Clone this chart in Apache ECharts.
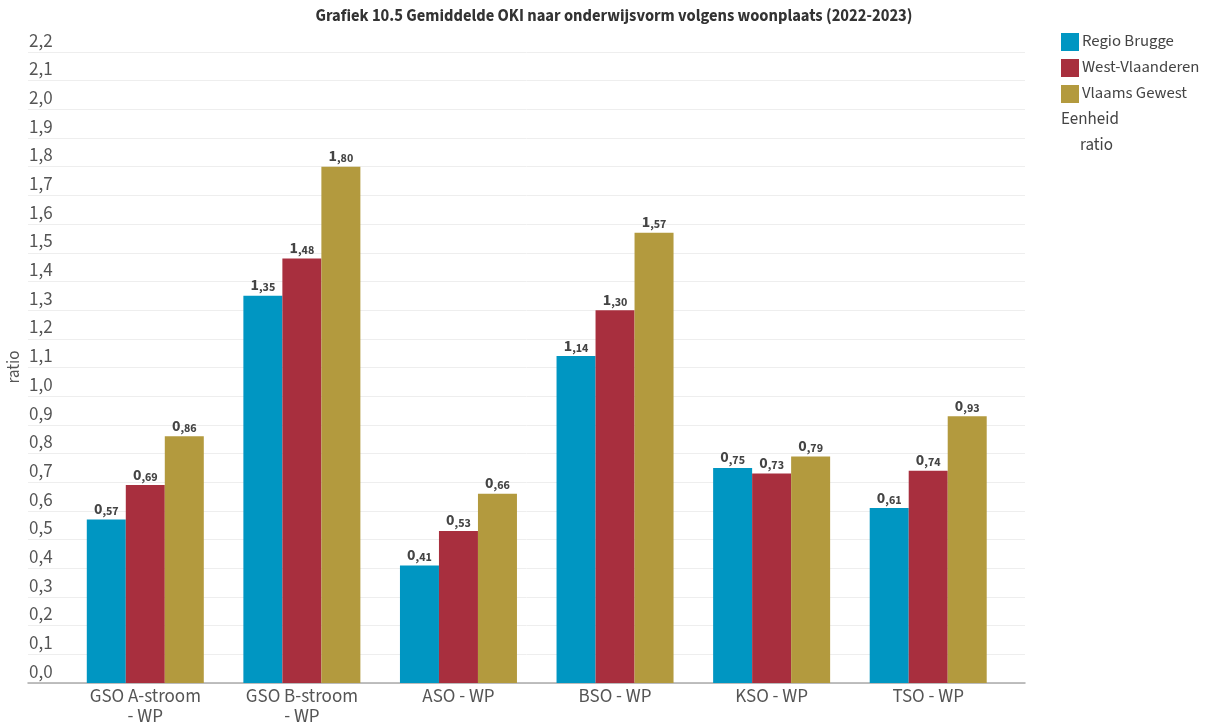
<!DOCTYPE html>
<html>
<head>
<meta charset="utf-8">
<script src="https://cdn.jsdelivr.net/npm/echarts@6/dist/echarts.min.js"></script>
<style>
html,body{margin:0;padding:0;background:#fff;}
#main{width:1206px;height:724px;}
</style>
</head>
<body>
<div id="main"></div>
<script>
var categories = ['GSO A-stroom\n- WP', 'GSO B-stroom\n- WP', 'ASO - WP', 'BSO - WP', 'KSO - WP', 'TSO - WP'];
var seriesNames = ['Regio Brugge', 'West-Vlaanderen', 'Vlaams Gewest'];
var regioBrugge = [0.57, 1.35, 0.41, 1.14, 0.75, 0.61];
var westVlaanderen = [0.69, 1.48, 0.53, 1.30, 0.73, 0.74];
var vlaamsGewest = [0.86, 1.80, 0.66, 1.57, 0.79, 0.93];
var colors = ['#0096c2', '#a82f3e', '#b39a3e'];
var titleText = 'Grafiek 10.5 Gemiddelde OKI naar onderwijsvorm volgens woonplaats (2022-2023)';
var yAxisName = 'ratio';
var unitTitle = 'Eenheid';
var unitText = 'ratio';
var yMin = 0, yMax = 2.2, yStep = 0.1;

var FONT = '"Source Sans 3","Source Sans Pro",Lato,"Noto Sans",sans-serif';
var chart = echarts.init(document.getElementById('main'));

function labelFmt(p) {
  var s = p.value.toFixed(2).split('.');
  return '{a|' + s[0] + '}{b|,' + s[1] + '}';
}
function mkSeries(name, data, color) {
  return {
    name: name, type: 'bar', data: data, xAxisIndex: 1, yAxisIndex: 1,
    barWidth: 39, barGap: '0%',
    itemStyle: { color: color },
    label: {
      show: true, position: 'top', distance: 1, formatter: labelFmt,
      rich: {
        a: { fontFamily: FONT, fontWeight: 'bold', fontSize: 16, color: '#444' },
        b: { fontFamily: FONT, fontWeight: 'bold', fontSize: 12, color: '#444', verticalAlign: 'bottom' }
      }
    }
  };
}

var option = {
  animation: false,
  textStyle: { fontFamily: FONT },
  color: colors,
  graphic: [
    { type: 'text', x: 614, y: 17, style: { text: titleText, fontFamily: FONT, fontWeight: 'bold', fontSize: 16.5, fill: '#333', textAlign: 'center', textVerticalAlign: 'middle' } },
    { type: 'text', x: 15, y: 367, rotation: Math.PI / 2, style: { text: yAxisName, fontFamily: FONT, fontSize: 17, fill: '#555', textAlign: 'center', textVerticalAlign: 'middle' } },
    { type: 'text', x: 1061, y: 120, style: { text: unitTitle, fontFamily: FONT, fontSize: 17, fill: '#444', textVerticalAlign: 'middle' } },
    { type: 'text', x: 1080, y: 146, style: { text: unitText, fontFamily: FONT, fontSize: 17, fill: '#444', textVerticalAlign: 'middle' } }
  ],
  legend: {
    orient: 'vertical', left: 1061, top: 33, padding: 0,
    itemWidth: 18, itemHeight: 18, itemGap: 8,
    icon: 'rect',
    textStyle: { fontFamily: FONT, fontSize: 16.7, color: '#444', padding: [0, 0, 0, -2] },
    data: seriesNames
  },
  grid: [
    { left: 28, right: 181, top: 52, bottom: 41, outerBoundsMode: 'none', containLabel: false },
    { left: 67, right: 199.5, top: 52, bottom: 41, outerBoundsMode: 'none', containLabel: false }
  ],
  xAxis: [
    { gridIndex: 0, type: 'value', min: 0, max: 1, axisLine: { show: true, onZero: false, lineStyle: { color: '#aaa', width: 1.5 } }, axisTick: { show: false }, axisLabel: { show: false }, splitLine: { show: false } },
    { gridIndex: 1, type: 'category', data: categories, axisLine: { show: false }, axisTick: { show: false },
      axisLabel: { fontFamily: FONT, fontSize: 19, color: '#555', margin: 5, lineHeight: 20, interval: 0 } }
  ],
  yAxis: [
    { gridIndex: 0, type: 'value', min: yMin, max: yMax, interval: yStep,
      axisLine: { show: false }, axisTick: { show: false },
      axisLabel: { inside: true, margin: 1, verticalAlign: 'bottom', padding: [0, 0, 0, 0], fontFamily: FONT, fontSize: 19, color: '#555',
        formatter: function (v) { return v.toFixed(1).replace('.', ','); } },
      splitLine: { show: true, lineStyle: { color: '#eeeeee', width: 1 } } },
    { gridIndex: 1, type: 'value', min: yMin, max: yMax, interval: yStep, show: false, splitLine: { show: false } }
  ],
  series: [
    mkSeries(seriesNames[0], regioBrugge, colors[0]),
    mkSeries(seriesNames[1], westVlaanderen, colors[1]),
    mkSeries(seriesNames[2], vlaamsGewest, colors[2])
  ]
};
chart.setOption(option);
</script>
</body>
</html>
